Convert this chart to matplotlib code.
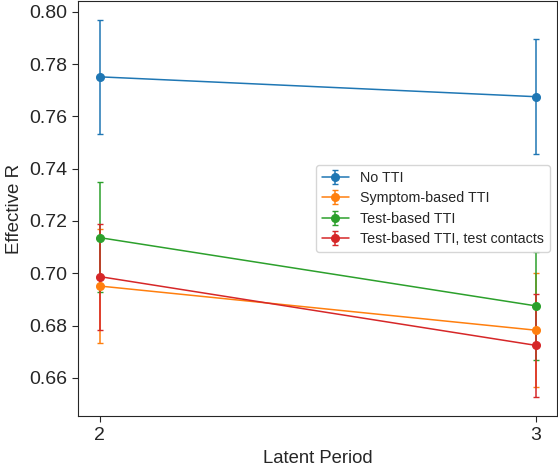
import matplotlib
matplotlib.use('agg')
import matplotlib.pyplot as plt
import seaborn as sns

latent_period = [2, 3]
series_names = ['No TTI', 'Symptom-based TTI', 'Test-based TTI', 'Test-based TTI, test contacts']
means = [
    [0.7751, 0.7675],
    [0.6951, 0.6782],
    [0.7136, 0.6875],
    [0.6987, 0.6724],
]
lower = [
    [0.7531, 0.7457],
    [0.6732, 0.6564],
    [0.6927, 0.6667],
    [0.6784, 0.6527],
]
upper = [
    [0.7970, 0.7895],
    [0.7171, 0.7000],
    [0.7349, 0.7080],
    [0.7190, 0.6921],
]

sns.set_style('ticks')
plt.rcParams['font.family'] = ['Liberation Sans', 'DejaVu Sans']

fig = plt.figure(figsize=(5.58, 4.70), dpi=100)
ax = fig.add_axes([78 / 558, 1 - 416 / 470, (557 - 78) / 558, (416 - 1) / 470])
for i, name in enumerate(series_names):
    m = means[i]
    err = [[m[j] - lower[i][j] for j in range(2)], [upper[i][j] - m[j] for j in range(2)]]
    ax.errorbar(latent_period, m, yerr=err, marker='o', markersize=5.5,
                linewidth=1.1, elinewidth=1.1, capsize=2.5, label=name)

ax.set_xticks(latent_period)
ax.set_xlim(1.95, 3.048)
ax.set_ylim(0.6454, 0.8041)
ax.set_yticks([0.66, 0.68, 0.70, 0.72, 0.74, 0.76, 0.78, 0.80])
ax.set_yticklabels(['%.2f' % v for v in ax.get_yticks()])
ax.tick_params(labelsize=14, length=4.5)
ax.set_xlabel('Latent Period', fontsize=13.3)
ax.set_ylabel('Effective R', fontsize=13.5)
ax.legend(loc='center right', fontsize=10.3, handlelength=1.9, labelspacing=0.45)

fig.savefig('out.png', dpi=100)
